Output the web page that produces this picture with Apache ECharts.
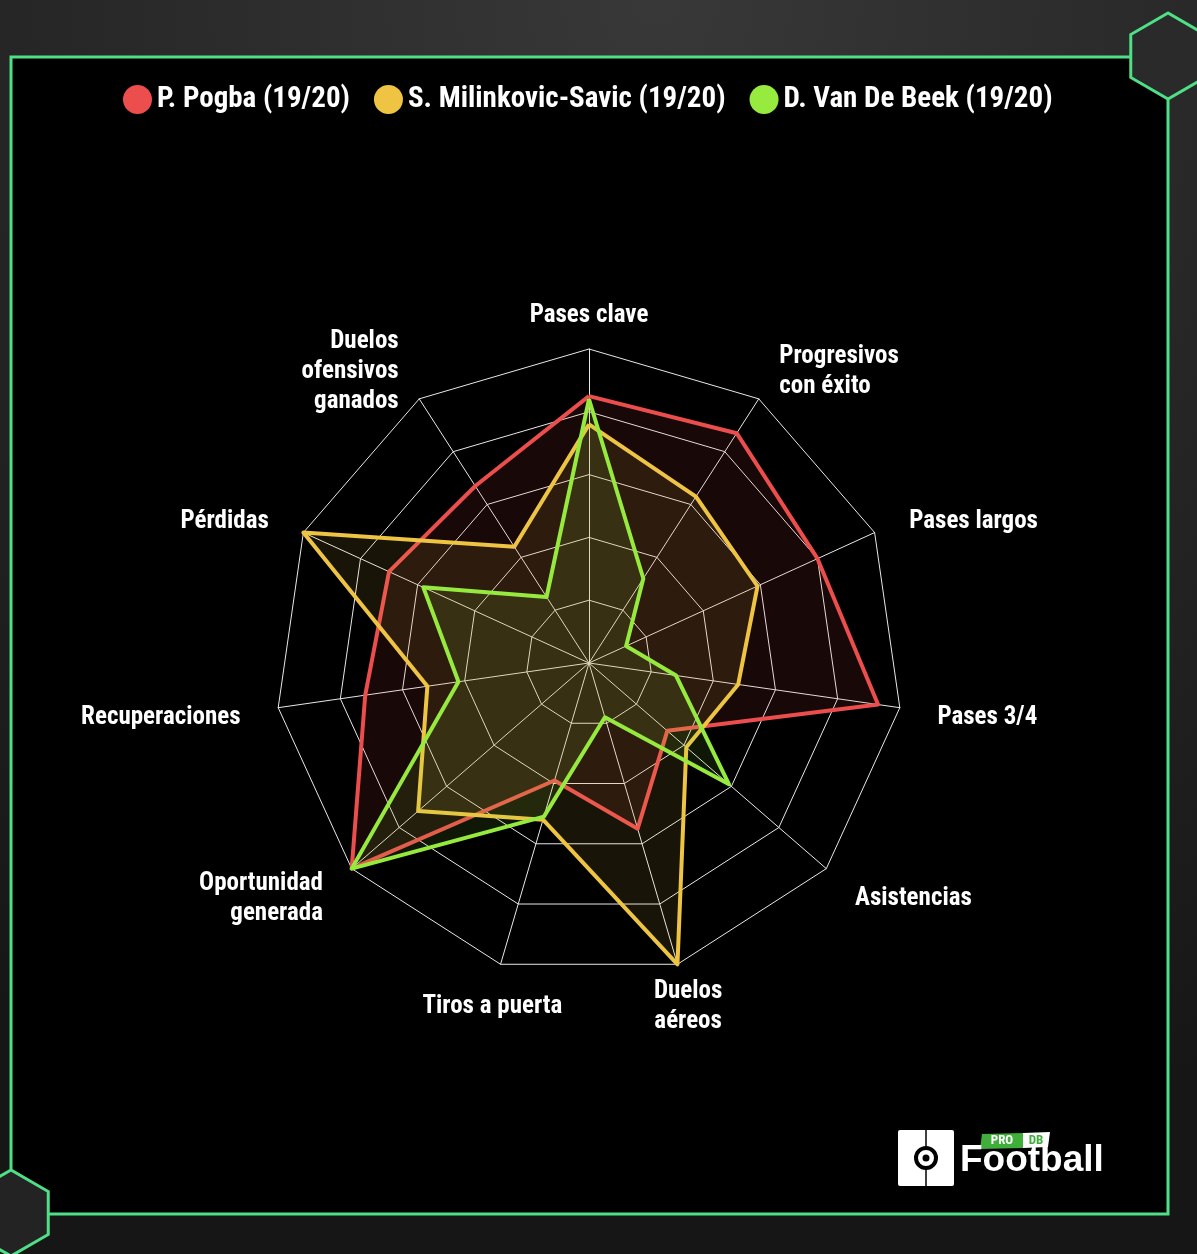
<!DOCTYPE html>
<html>
<head>
<meta charset="utf-8">
<script src="https://cdn.jsdelivr.net/npm/echarts@6/dist/echarts.min.js"></script>
<style>
html,body{margin:0;padding:0;background:#222;}
#chart{width:1197px;height:1254px;}
</style>
</head>
<body>
<div id="chart"></div>
<script>
// Axis names, clockwise from the top
const categories = ['Pases clave', 'Progresivos\ncon éxito', 'Pases largos', 'Pases 3/4', 'Asistencias',
  'Duelos\naéreos', 'Tiros a puerta', 'Oportunidad\ngenerada', 'Recuperaciones', 'Pérdidas',
  'Duelos\nofensivos\nganados'];
const seriesNames = ['P. Pogba (19/20)', 'S. Milinkovic-Savic (19/20)', 'D. Van De Beek (19/20)'];
const pogba      = [85, 87, 80, 93, 33, 55, 39, 100, 72, 70, 67];
const milinkovic = [76, 63, 59, 48, 41, 100, 52, 72, 52, 100, 44];
const vandebeek  = [84, 32, 13, 28, 59, 18, 51, 100, 42, 58, 25];
const axisMax = 100;

const FONT = '"Liberation Sans Narrow", "Roboto Condensed", Roboto, sans-serif';
const GREEN = '#4fdf87';
const colors = ['#ec4d4d', '#efc443', '#97ea3e'];
const LINE_H = 30;

// ECharts lays radar indicators counter-clockwise, so reverse after the first
const order = [0].concat(categories.map((_, i) => i).slice(1).reverse());
const special = {
  0: { nameGap: 18, nameTextStyle: { padding: [0, 0, 0, 0] } },
  5: { nameGap: 13, nameTextStyle: { align: 'center', verticalAlign: 'top', padding: [0, 0, 0, 14] } },
  6: { nameGap: 29, nameTextStyle: { align: 'center', verticalAlign: 'top', padding: [0, 0, 0, 0] } }
};
function nameStyle(i) {
  if (special[i]) return special[i];
  const lines = categories[i].split('\n').length;
  // centred on the axis end, nudged 5px lower
  return { nameTextStyle: { verticalAlign: 'top', padding: [-(lines * LINE_H) / 2 + 5, 0, 0, 0] } };
}
const indicators = order.map(i => Object.assign({ name: categories[i], max: axisMax, min: 0 }, nameStyle(i)));
const reorder = arr => order.map(i => arr[i]);

function hexPts(cx, cy, r) {
  const pts = [];
  for (let k = 0; k < 6; k++) {
    const a = Math.PI / 180 * (90 + 60 * k);
    pts.push([cx + r * Math.cos(a), cy - r * Math.sin(a)]);
  }
  return pts;
}

const chart = echarts.init(document.getElementById('chart'));
chart.setOption({
  backgroundColor: {
    type: 'radial', x: 0.55, y: 0.0, r: 1.0,
    colorStops: [{ offset: 0, color: '#383838' }, { offset: 1, color: '#161616' }]
  },
  graphic: [
    { type: 'rect', z: -10, shape: { x: 11, y: 57, width: 1157, height: 1157 },
      style: { fill: '#000', stroke: GREEN, lineWidth: 3 } },
    { type: 'polygon', z: -5, shape: { points: hexPts(1168, 56, 43) },
      style: { fill: '#2a2a2a', stroke: GREEN, lineWidth: 3 } },
    { type: 'polygon', z: -5, shape: { points: hexPts(11, 1213, 43) },
      style: { fill: '#232323', stroke: GREEN, lineWidth: 3 } },
    // logo
    { type: 'rect', shape: { x: 898, y: 1130, width: 56, height: 56, r: 2 }, style: { fill: '#fff' } },
    { type: 'line', shape: { x1: 926, y1: 1130, x2: 926, y2: 1186 }, style: { stroke: '#000', lineWidth: 1.5 } },
    { type: 'circle', shape: { cx: 926, cy: 1158, r: 10 }, style: { fill: '#fff', stroke: '#000', lineWidth: 4 } },
    { type: 'circle', shape: { cx: 926, cy: 1158, r: 3.5 }, style: { fill: '#000' } },
    { type: 'polygon', shape: { points: [[982, 1134], [1023, 1133], [1023, 1148], [980, 1149]] }, style: { fill: '#3fae3a' } },
    { type: 'polygon', shape: { points: [[1023, 1133], [1050, 1132], [1048, 1147], [1023, 1148]] }, style: { fill: '#fff' } },
    { type: 'text', style: { x: 1002, y: 1141, text: 'PRO', fill: '#fff', font: 'bold 13px ' + FONT, align: 'center', verticalAlign: 'middle' } },
    { type: 'text', style: { x: 1036, y: 1141, text: 'DB', fill: '#3fae3a', font: 'bold 13px ' + FONT, align: 'center', verticalAlign: 'middle' } },
    { type: 'text', style: { x: 960, y: 1161, text: 'Football', fill: '#fff', font: 'bold 37px "Liberation Sans", Arial, sans-serif', align: 'left', verticalAlign: 'middle' } }
  ],
  color: colors,
  legend: {
    data: seriesNames,
    top: 85,
    left: 123,
    padding: 0,
    icon: 'circle',
    itemWidth: 29,
    itemHeight: 29,
    itemGap: 24,
    textStyle: { color: '#fff', fontSize: 29, fontWeight: 'bold', fontFamily: FONT, padding: [2, 0, 0, 0] }
  },
  radar: {
    center: [589, 663],
    radius: 314,
    startAngle: 90,
    splitNumber: 5,
    shape: 'polygon',
    nameGap: 38,
    indicator: indicators,
    axisName: { color: '#fff', fontSize: 25, fontWeight: 'bold', fontFamily: FONT, lineHeight: LINE_H },
    splitArea: { show: false },
    splitLine: { lineStyle: { color: '#e8e8e8', width: 1 } },
    axisLine: { lineStyle: { color: '#e8e8e8', width: 1 } }
  },
  series: [{
    type: 'radar',
    symbol: 'none',
    data: [
      { name: seriesNames[0], value: reorder(pogba), lineStyle: { color: colors[0], width: 4 }, areaStyle: { color: colors[0], opacity: 0.1 } },
      { name: seriesNames[1], value: reorder(milinkovic), lineStyle: { color: colors[1], width: 4 }, areaStyle: { color: colors[1], opacity: 0.1 } },
      { name: seriesNames[2], value: reorder(vandebeek), lineStyle: { color: colors[2], width: 4 }, areaStyle: { color: colors[2], opacity: 0.1 } }
    ]
  }]
});
</script>
</body>
</html>
